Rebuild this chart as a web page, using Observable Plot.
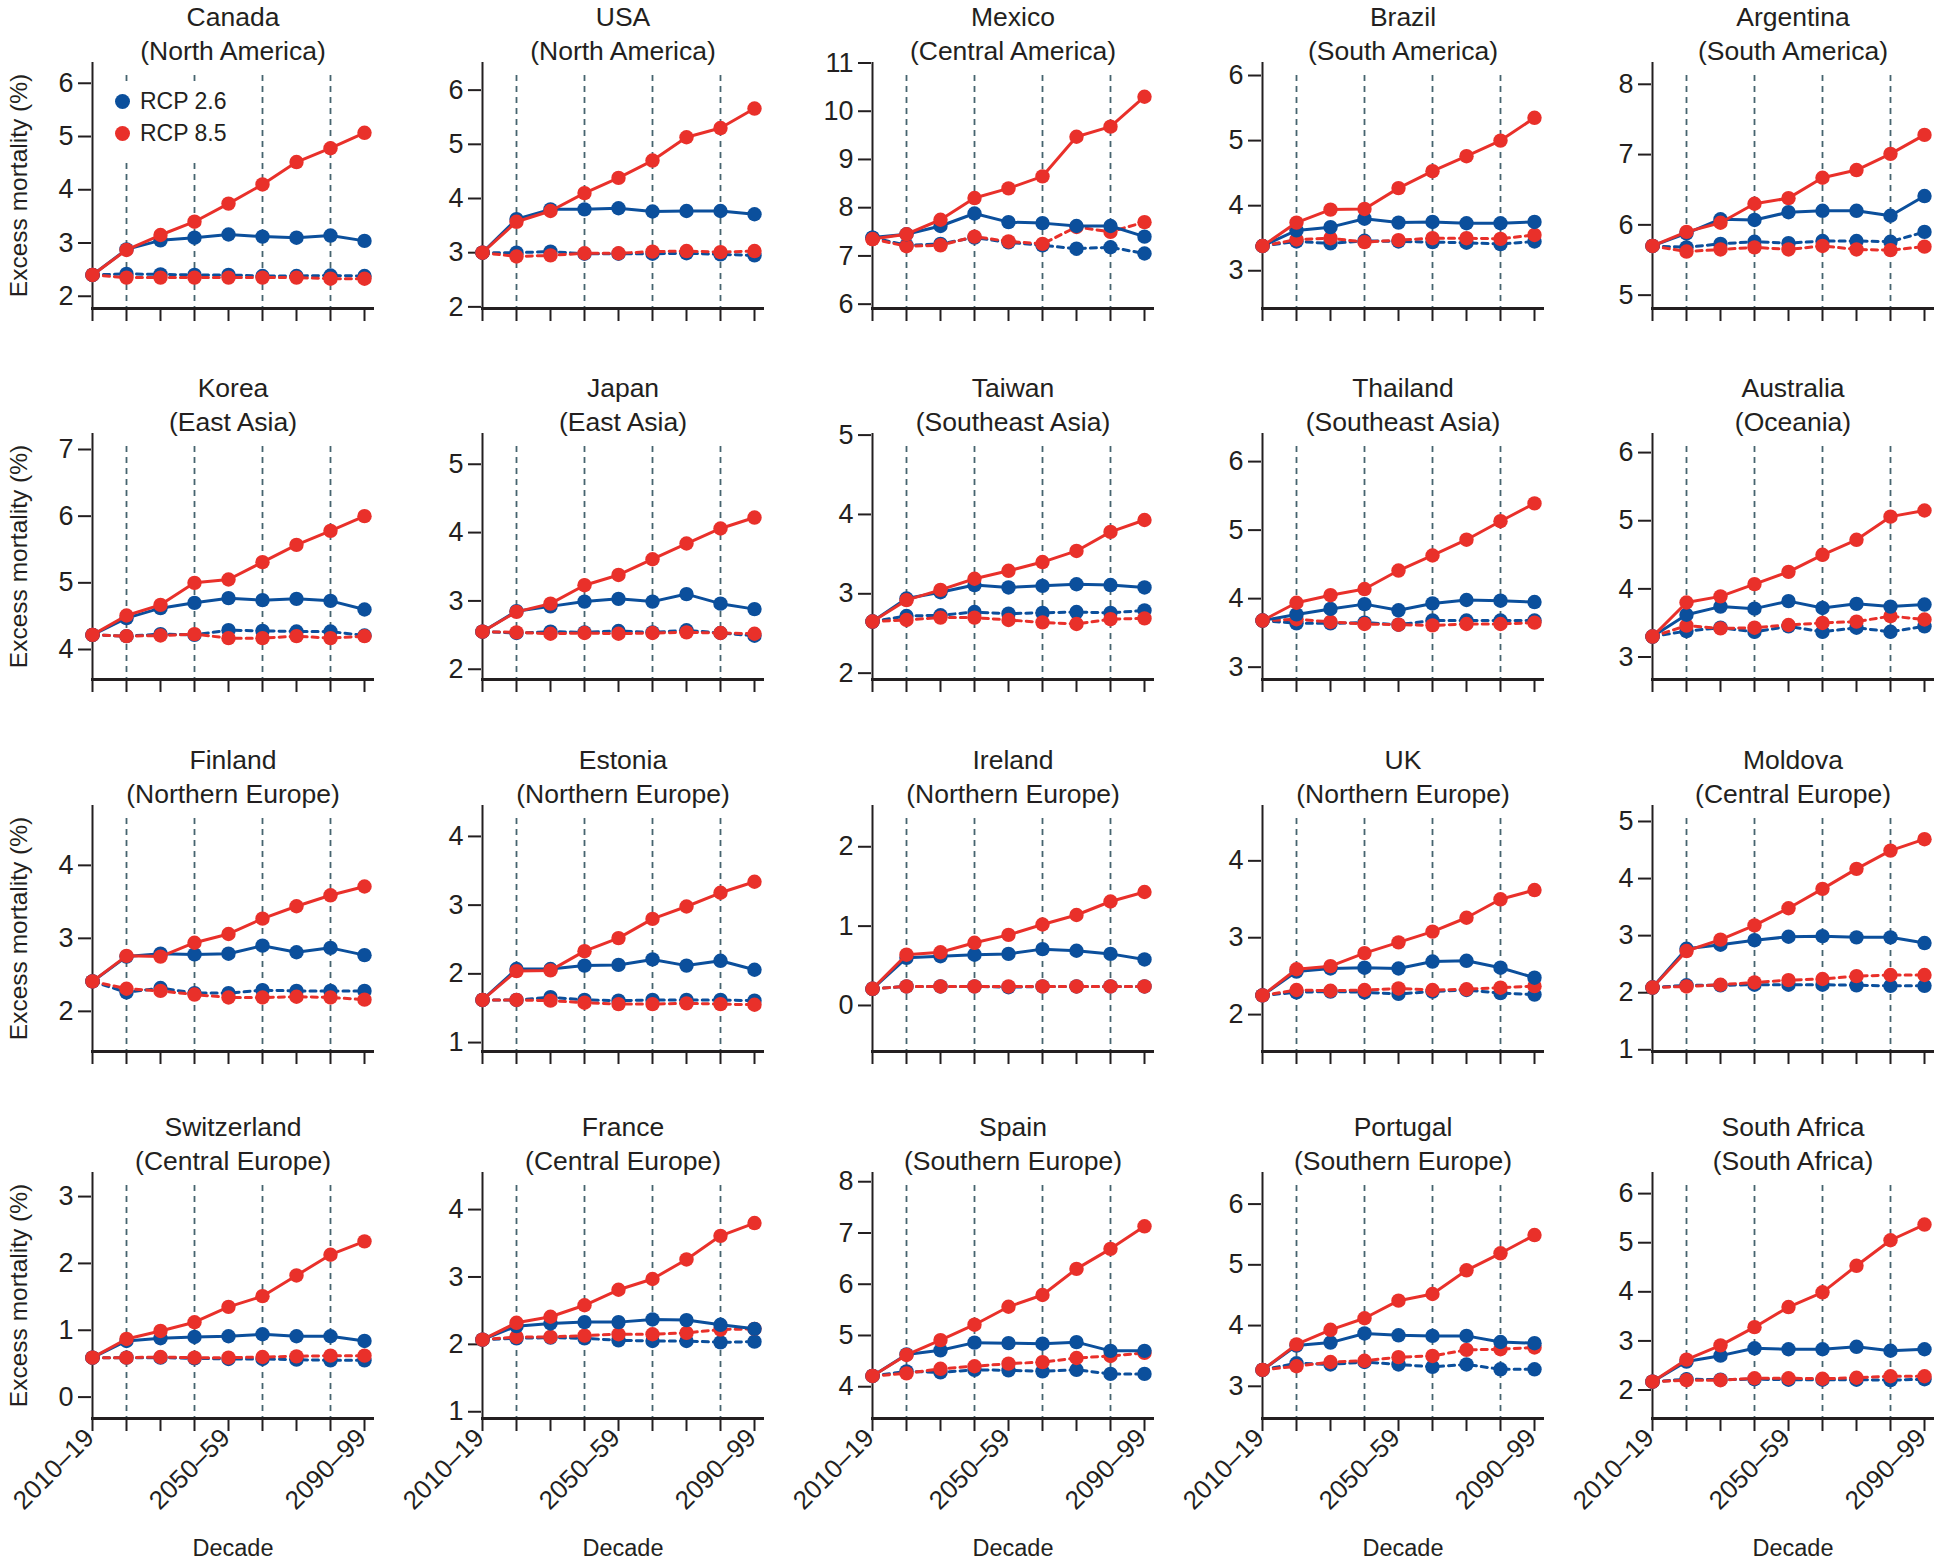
<!DOCTYPE html>
<html>
<head>
<meta charset="utf-8">
<script src="https://cdn.jsdelivr.net/npm/d3@7"></script>
<script src="https://cdn.jsdelivr.net/npm/@observablehq/plot@0.6"></script>
<style>
html, body { margin: 0; padding: 0; background: #fff; }
#root { position: relative; width: 1950px; height: 1564px; overflow: hidden; font-family: "Liberation Sans", Arial, sans-serif; color: #231f20; }
.panel { position: absolute; }
.legend { position: absolute; left: 106px; top: 82px; width: 134px; height: 78px; background: #fff; font-size: 23px; }
.legend .row { position: absolute; left: 0; height: 32px; display: flex; align-items: center; }
.legend .sw { display: inline-block; width: 15px; height: 15px; border-radius: 50%; margin-left: 9px; margin-right: 10px; }
</style>
</head>
<body>
<div id="root"></div>
<script>
const decades = ["2010–19","2020–29","2030–39","2040–49","2050–59","2060–69","2070–79","2080–89","2090–99"];
const labeledDecades = ["2010–19","2050–59","2090–99"];
const dividerDecades = ["2020–29","2040–49","2060–69","2080–89"];
const seriesNames = ["RCP 2.6","RCP 8.5"];

const countries = ["Canada","USA","Mexico","Brazil","Argentina",
  "Korea","Japan","Taiwan","Thailand","Australia",
  "Finland","Estonia","Ireland","UK","Moldova",
  "Switzerland","France","Spain","Portugal","South Africa"];
const regions = ["(North America)","(North America)","(Central America)","(South America)","(South America)",
  "(East Asia)","(East Asia)","(Southeast Asia)","(Southeast Asia)","(Oceania)",
  "(Northern Europe)","(Northern Europe)","(Northern Europe)","(Northern Europe)","(Central Europe)",
  "(Central Europe)","(Central Europe)","(Southern Europe)","(Southern Europe)","(South Africa)"];

const yDomains = [
  [1.77, 6.39],[1.97, 6.51],[5.91, 11.01],[2.42, 6.2],[4.81, 8.31],
  [3.55, 7.24],[1.85, 5.45],[1.92, 5.02],[2.82, 6.41],[2.67, 6.28],
  [1.45, 4.82],[0.87, 4.45],[-0.58, 2.52],[1.52, 4.72],[0.97, 5.28],
  [-0.32, 3.36],[0.9, 4.55],[3.38, 8.18],[2.47, 6.52],[1.42, 6.43]
];

const rcp85Solid = [
  [2.40, 2.87, 3.15, 3.40, 3.74, 4.10, 4.52, 4.78, 5.07],
  [3.00, 3.57, 3.77, 4.10, 4.38, 4.70, 5.13, 5.30, 5.66],
  [7.35, 7.45, 7.75, 8.20, 8.40, 8.65, 9.47, 9.68, 10.30],
  [3.38, 3.74, 3.94, 3.95, 4.27, 4.53, 4.76, 5.00, 5.35],
  [5.70, 5.90, 6.03, 6.30, 6.38, 6.67, 6.78, 7.01, 7.28],
  [4.22, 4.51, 4.67, 5.00, 5.05, 5.31, 5.57, 5.78, 6.00],
  [2.55, 2.84, 2.96, 3.23, 3.38, 3.61, 3.84, 4.06, 4.22],
  [2.65, 2.92, 3.05, 3.19, 3.29, 3.40, 3.54, 3.78, 3.93],
  [3.68, 3.94, 4.05, 4.14, 4.41, 4.63, 4.86, 5.13, 5.39],
  [3.30, 3.80, 3.89, 4.07, 4.25, 4.50, 4.72, 5.06, 5.15],
  [2.41, 2.76, 2.75, 2.94, 3.06, 3.27, 3.44, 3.59, 3.71],
  [1.62, 2.04, 2.05, 2.33, 2.52, 2.80, 2.98, 3.18, 3.34],
  [0.21, 0.64, 0.67, 0.79, 0.89, 1.02, 1.14, 1.31, 1.43],
  [2.25, 2.59, 2.63, 2.80, 2.94, 3.08, 3.26, 3.50, 3.62],
  [2.09, 2.73, 2.93, 3.18, 3.48, 3.82, 4.17, 4.49, 4.69],
  [0.59, 0.87, 0.99, 1.12, 1.35, 1.51, 1.82, 2.13, 2.33],
  [2.07, 2.32, 2.41, 2.58, 2.81, 2.97, 3.26, 3.61, 3.80],
  [4.21, 4.62, 4.91, 5.21, 5.56, 5.79, 6.30, 6.69, 7.13],
  [3.27, 3.69, 3.93, 4.12, 4.41, 4.52, 4.91, 5.19, 5.49],
  [2.17, 2.62, 2.91, 3.28, 3.69, 3.99, 4.53, 5.05, 5.37]
];

const rcp26Solid = [
  [2.40, 2.88, 3.05, 3.10, 3.16, 3.12, 3.10, 3.14, 3.04],
  [3.00, 3.62, 3.80, 3.80, 3.82, 3.76, 3.77, 3.77, 3.71],
  [7.38, 7.45, 7.62, 7.88, 7.70, 7.68, 7.62, 7.62, 7.40],
  [3.38, 3.62, 3.67, 3.80, 3.74, 3.75, 3.73, 3.73, 3.75],
  [5.70, 5.88, 6.08, 6.07, 6.18, 6.20, 6.20, 6.13, 6.41],
  [4.22, 4.47, 4.62, 4.70, 4.77, 4.74, 4.76, 4.73, 4.60],
  [2.55, 2.85, 2.92, 2.99, 3.03, 2.99, 3.10, 2.96, 2.88],
  [2.65, 2.94, 3.02, 3.11, 3.08, 3.10, 3.12, 3.11, 3.08],
  [3.68, 3.77, 3.85, 3.92, 3.83, 3.93, 3.98, 3.97, 3.95],
  [3.30, 3.62, 3.74, 3.71, 3.82, 3.72, 3.78, 3.74, 3.77],
  [2.41, 2.75, 2.79, 2.78, 2.79, 2.90, 2.81, 2.87, 2.77],
  [1.62, 2.07, 2.07, 2.12, 2.13, 2.21, 2.12, 2.19, 2.06],
  [0.21, 0.60, 0.62, 0.64, 0.65, 0.71, 0.69, 0.65, 0.58],
  [2.25, 2.56, 2.60, 2.61, 2.60, 2.69, 2.70, 2.61, 2.48],
  [2.09, 2.77, 2.84, 2.92, 2.98, 2.99, 2.97, 2.97, 2.87],
  [0.59, 0.84, 0.88, 0.90, 0.91, 0.94, 0.91, 0.91, 0.84],
  [2.07, 2.27, 2.31, 2.33, 2.33, 2.37, 2.36, 2.29, 2.23],
  [4.21, 4.63, 4.71, 4.86, 4.85, 4.84, 4.87, 4.70, 4.70],
  [3.27, 3.67, 3.72, 3.87, 3.84, 3.83, 3.83, 3.73, 3.71],
  [2.17, 2.58, 2.70, 2.85, 2.83, 2.83, 2.88, 2.80, 2.83]
];

const rcp26Dashed = [
  [2.40, 2.42, 2.41, 2.40, 2.40, 2.38, 2.38, 2.39, 2.38],
  [3.00, 3.00, 3.02, 2.98, 2.98, 2.98, 2.99, 2.97, 2.95],
  [7.38, 7.22, 7.25, 7.38, 7.28, 7.22, 7.15, 7.18, 7.05],
  [3.38, 3.45, 3.42, 3.46, 3.45, 3.44, 3.43, 3.41, 3.45],
  [5.70, 5.68, 5.73, 5.76, 5.74, 5.77, 5.77, 5.76, 5.90],
  [4.22, 4.20, 4.23, 4.22, 4.29, 4.28, 4.27, 4.27, 4.21],
  [2.55, 2.53, 2.55, 2.54, 2.56, 2.54, 2.57, 2.53, 2.49],
  [2.65, 2.72, 2.73, 2.77, 2.75, 2.76, 2.77, 2.76, 2.79],
  [3.68, 3.64, 3.64, 3.65, 3.62, 3.68, 3.68, 3.68, 3.68],
  [3.30, 3.38, 3.43, 3.37, 3.45, 3.37, 3.43, 3.37, 3.45],
  [2.41, 2.26, 2.32, 2.25, 2.25, 2.29, 2.28, 2.28, 2.28],
  [1.62, 1.62, 1.66, 1.62, 1.61, 1.62, 1.62, 1.62, 1.61],
  [0.21, 0.24, 0.24, 0.24, 0.23, 0.24, 0.24, 0.24, 0.24],
  [2.25, 2.29, 2.30, 2.29, 2.27, 2.30, 2.32, 2.28, 2.26],
  [2.09, 2.13, 2.13, 2.14, 2.14, 2.14, 2.13, 2.12, 2.12],
  [0.59, 0.59, 0.59, 0.58, 0.57, 0.57, 0.56, 0.55, 0.55],
  [2.07, 2.09, 2.10, 2.09, 2.06, 2.05, 2.05, 2.03, 2.04],
  [4.21, 4.30, 4.28, 4.33, 4.32, 4.30, 4.33, 4.25, 4.25],
  [3.27, 3.38, 3.36, 3.40, 3.36, 3.32, 3.36, 3.28, 3.28],
  [2.17, 2.22, 2.21, 2.22, 2.21, 2.21, 2.21, 2.20, 2.22]
];

const rcp85Dashed = [
  [2.40, 2.35, 2.35, 2.35, 2.35, 2.35, 2.35, 2.33, 2.33],
  [3.00, 2.93, 2.95, 2.99, 2.99, 3.02, 3.03, 3.01, 3.03],
  [7.35, 7.20, 7.22, 7.40, 7.30, 7.25, 7.60, 7.50, 7.70],
  [3.38, 3.48, 3.50, 3.44, 3.47, 3.50, 3.50, 3.49, 3.55],
  [5.70, 5.62, 5.65, 5.68, 5.65, 5.70, 5.65, 5.64, 5.69],
  [4.22, 4.20, 4.21, 4.23, 4.17, 4.17, 4.20, 4.17, 4.20],
  [2.55, 2.54, 2.52, 2.53, 2.52, 2.53, 2.54, 2.53, 2.52],
  [2.65, 2.67, 2.70, 2.70, 2.67, 2.64, 2.62, 2.68, 2.69],
  [3.68, 3.70, 3.66, 3.63, 3.62, 3.61, 3.63, 3.63, 3.65],
  [3.30, 3.46, 3.42, 3.43, 3.47, 3.50, 3.52, 3.60, 3.55],
  [2.41, 2.31, 2.28, 2.23, 2.19, 2.19, 2.20, 2.19, 2.16],
  [1.62, 1.62, 1.61, 1.58, 1.56, 1.56, 1.57, 1.56, 1.55],
  [0.21, 0.24, 0.24, 0.24, 0.24, 0.24, 0.24, 0.24, 0.24],
  [2.25, 2.32, 2.31, 2.32, 2.34, 2.32, 2.33, 2.35, 2.37],
  [2.09, 2.11, 2.14, 2.18, 2.22, 2.24, 2.29, 2.31, 2.31],
  [0.59, 0.59, 0.60, 0.59, 0.59, 0.60, 0.61, 0.62, 0.62],
  [2.07, 2.11, 2.11, 2.13, 2.15, 2.15, 2.17, 2.22, 2.23],
  [4.21, 4.26, 4.35, 4.40, 4.45, 4.48, 4.56, 4.60, 4.66],
  [3.27, 3.33, 3.40, 3.42, 3.48, 3.50, 3.60, 3.61, 3.64],
  [2.17, 2.20, 2.20, 2.24, 2.24, 2.23, 2.25, 2.28, 2.28]
];

// ---- styling / layout ----
const BLUE = "#0b4f9c";
const RED = "#e9302a";
const INK = "#231f20";
const FONT = '"Liberation Sans", Arial, sans-serif';
const colLeft = [0, 390, 780, 1170, 1560];
const rowTop = [0, 371, 743, 1110];
const root = document.getElementById("root");

const layers = [
  {values: rcp26Dashed, color: BLUE, dash: "6,5"},
  {values: rcp85Dashed, color: RED, dash: "6,5"},
  {values: rcp26Solid, color: BLUE, dash: null},
  {values: rcp85Solid, color: RED, dash: null}
];

for (let p = 0; p < countries.length; p++) {
  const r = Math.floor(p / 5), c = p % 5;
  const isBottom = r === 3;
  const height = isBottom ? 454 : 370;
  const marginTop = 62, plotH = 246;
  const dom = yDomains[p];
  const yTicks = d3.range(Math.ceil(dom[0]), Math.floor(dom[1]) + 1);

  const marks = [
    Plot.ruleX(dividerDecades, {x: d => d, stroke: "#46646f", strokeWidth: 1.8, strokeDasharray: "6,5", insetTop: 13}),
    Plot.ruleX([decades[0]], {x: d => d, stroke: INK, strokeWidth: 2}),
    Plot.ruleY([dom[0]], {y: d => d, stroke: INK, strokeWidth: 3}),
    Plot.axisY({ticks: yTicks, tickSize: 13, tickPadding: 5, strokeWidth: 2, fontSize: 27, label: null, tickFormat: d => String(d)}),
    Plot.axisX({ticks: decades, tickSize: 13, strokeWidth: 2, label: null, tickFormat: () => ""})
  ];
  if (isBottom) {
    marks.push(Plot.axisX(labeledDecades, {tickSize: 0, tickRotate: -45, tickPadding: 15, fontSize: 26, dx: -3, label: null}));
  }
  for (const L of layers) {
    const data = decades.map((d, i) => ({decade: d, value: L.values[p][i]}));
    const lineOpts = {x: "decade", y: "value", stroke: L.color, strokeWidth: 3};
    if (L.dash) lineOpts.strokeDasharray = L.dash;
    marks.push(Plot.line(data, lineOpts));
    marks.push(Plot.dot(data, {x: "decade", y: "value", r: 7.2, fill: L.color, stroke: "none"}));
  }
  marks.push(Plot.text([countries[p]], {text: d => d, frameAnchor: "top", dy: -37, lineAnchor: "bottom", fontSize: 26.5, fill: INK}));
  marks.push(Plot.text([regions[p]], {text: d => d, frameAnchor: "top", dy: -3, lineAnchor: "bottom", fontSize: 26.5, fill: INK}));
  if (c === 0) {
    marks.push(Plot.text(["Excess mortality (%)"], {text: d => d, frameAnchor: "left", textAnchor: "middle", lineAnchor: "middle", dx: -72, rotate: -90, fontSize: 24.5, fill: INK}));
  }
  if (isBottom) {
    marks.push(Plot.text(["Decade"], {text: d => d, frameAnchor: "bottom", dy: 130, lineAnchor: "middle", fontSize: 23.5, fill: INK}));
  }

  const chart = Plot.plot({
    width: 390, height,
    marginLeft: 91, marginRight: 16, marginTop, marginBottom: height - marginTop - plotH,
    style: {fontFamily: FONT, fontSize: "23px", color: INK, background: "transparent", overflow: "visible"},
    x: {type: "point", domain: decades, padding: 0, insetRight: 10},
    y: {domain: dom},
    marks
  });
  chart.classList.add("panel");
  chart.style.left = colLeft[c] + "px";
  chart.style.top = rowTop[r] + "px";
  root.appendChild(chart);
}

// legend (inside first panel)
const legend = document.createElement("div");
legend.className = "legend";
[BLUE, RED].forEach((col, i) => {
  const row = document.createElement("div");
  row.className = "row";
  row.style.top = (3 + i * 32) + "px";
  const sw = document.createElement("span");
  sw.className = "sw";
  sw.style.background = col;
  const t = document.createElement("span");
  t.textContent = seriesNames[i];
  row.appendChild(sw); row.appendChild(t);
  legend.appendChild(row);
});
root.appendChild(legend);
</script>
</body>
</html>
